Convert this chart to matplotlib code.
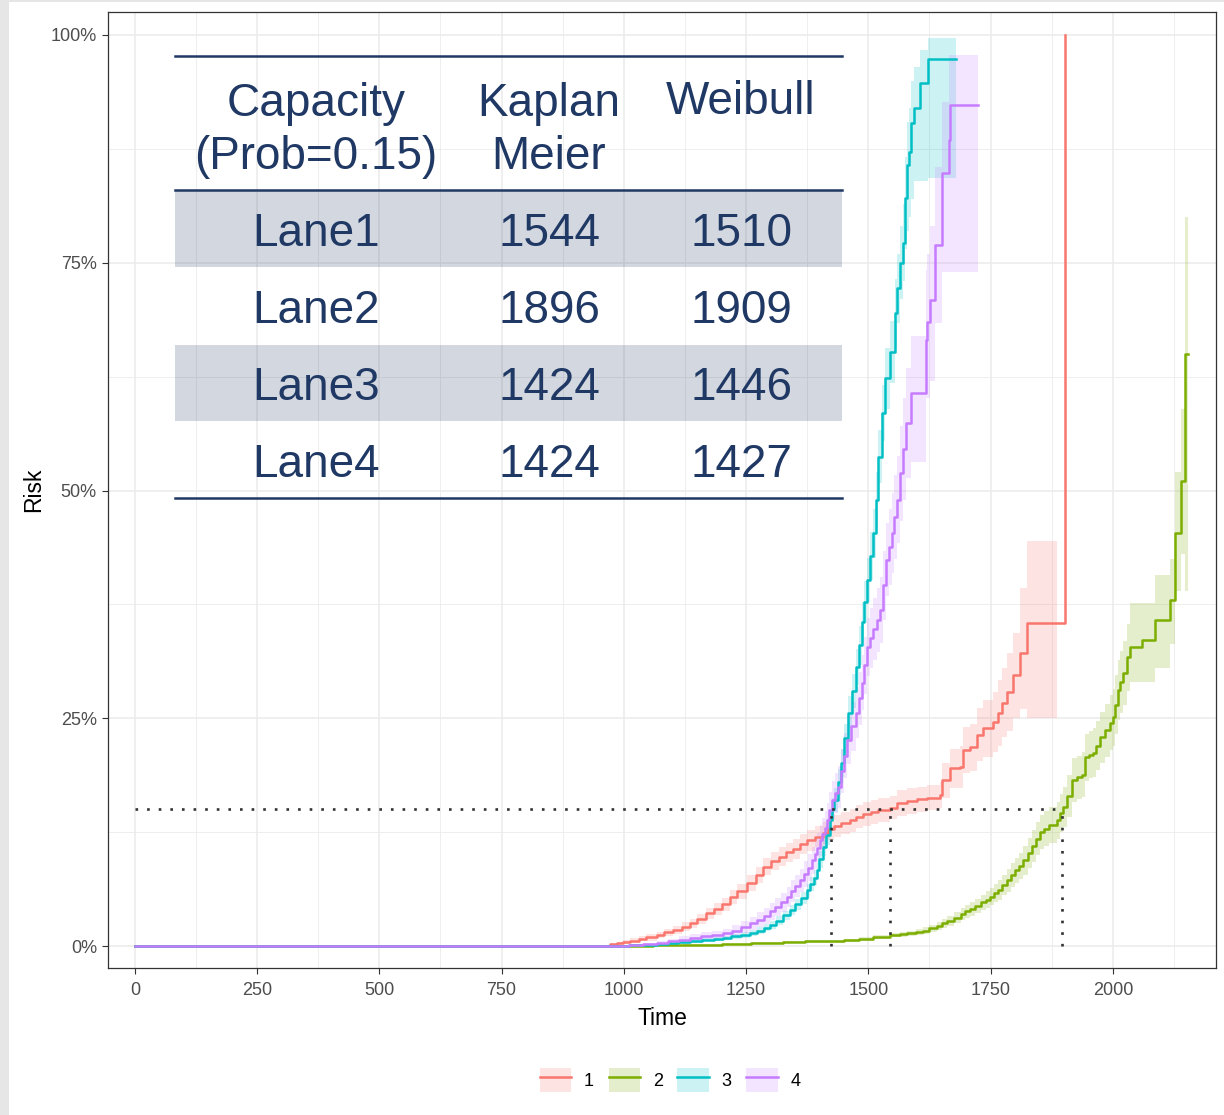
"""
Cumulative risk curves (Kaplan-Meier) for four lanes with a capacity table.
"""
import numpy as np
import matplotlib

matplotlib.use("Agg")
import matplotlib.pyplot as plt
from matplotlib.lines import Line2D
from matplotlib.patches import Patch, Rectangle

plt.rcParams["font.family"] = ["Liberation Sans", "DejaVu Sans"]

COLORS = ["#F8766D", "#7CAE00", "#00BFC4", "#C77CFF"]
NAVY = "#1F3864"
LANES = ["1", "2", "3", "4"]

nan = np.nan

# Lane 1
t1 = [0, 971, 985, 998, 1012, 1030, 1045, 1067, 1082, 1100,
      1118, 1135, 1150, 1169, 1185, 1200, 1217, 1232, 1251, 1270,
      1285, 1300, 1318, 1332, 1345, 1360, 1374, 1390, 1407, 1418,
      1430, 1445, 1462, 1475, 1489, 1505, 1520, 1544, 1558, 1580,
      1600, 1620, 1646, 1650, 1667, 1687, 1693, 1707, 1722, 1734,
      1755, 1765, 1773, 1783, 1796, 1810, 1824, 1885, 1902]
r1 = [0, 0.2, 0.3, 0.45, 0.6, 0.8, 0.95, 1.2, 1.5, 1.8,
      2.1, 2.5, 3.0, 3.6, 4.1, 4.6, 5.4, 6.0, 6.9, 7.8,
      8.7, 9.3, 9.8, 10.3, 10.7, 11.2, 11.6, 12.0, 12.4, 12.8,
      13.2, 13.5, 13.8, 14.2, 14.5, 14.7, 14.9, 15.2, 15.7, 15.9,
      16.1, 16.3, 16.6, 18.2, 19.5, 19.7, 21.5, 21.8, 23.2, 23.9,
      24.6, 25.6, 26.7, 27.9, 29.7, 32.2, 35.5, 35.5, 100]
lo1 = [0, 0.05, 0.15, 0.25, 0.35, 0.5, 0.6, 0.85, 1.1, 1.35,
       1.6, 2.0, 2.45, 3.0, 3.45, 3.9, 4.65, 5.2, 6.05, 6.9,
       7.75, 8.3, 8.75, 9.25, 9.6, 10.1, 10.45, 10.85, 11.2, 11.6,
       12.0, 12.25, 12.55, 12.95, 13.2, 13.4, 13.6, 13.9, 14.3, 14.5,
       14.7, 14.9, 15.2, 16.3, 17.4, 17.4, 19.0, 19.2, 20.3, 20.8,
       21.3, 22.0, 22.9, 23.6, 25.0, 26.0, 25.0, 25.0, nan]
hi1 = [0, 0.35, 0.45, 0.65, 0.85, 1.1, 1.3, 1.55, 1.9, 2.25,
       2.6, 3.0, 3.55, 4.2, 4.75, 5.3, 6.15, 6.8, 7.75, 8.7,
       9.65, 10.3, 10.85, 11.35, 11.8, 12.3, 12.75, 13.15, 13.6, 14.0,
       14.4, 14.75, 15.05, 15.45, 15.8, 16.0, 16.2, 16.5, 17.1, 17.3,
       17.5, 17.7, 18.0, 20.1, 21.6, 22.0, 24.0, 24.4, 26.1, 27.0,
       27.9, 29.2, 30.5, 32.2, 34.4, 39.3, 44.5, 44.5, nan]

# Lane 2
t2 = [0, 1000, 1060, 1121, 1160, 1200, 1260, 1325, 1370, 1421,
      1450, 1480, 1510, 1544, 1565, 1580, 1598, 1612, 1625, 1640,
      1650, 1660, 1675, 1690, 1698, 1707, 1718, 1730, 1740, 1748,
      1756, 1765, 1774, 1783, 1792, 1800, 1808, 1816, 1826, 1835,
      1843, 1851, 1860, 1870, 1885, 1892, 1898, 1906, 1916, 1927,
      1937, 1943, 1951, 1959, 1966, 1973, 1984, 1994, 2000, 2005,
      2010, 2015, 2020, 2028, 2035, 2059, 2086, 2117, 2127, 2140,
      2148, 2153]
r2 = [0, 0.05, 0.08, 0.1, 0.15, 0.2, 0.3, 0.45, 0.5, 0.5,
      0.65, 0.8, 1.0, 1.2, 1.3, 1.4, 1.55, 1.7, 1.95, 2.2,
      2.5, 2.8, 3.1, 3.5, 3.8, 4.1, 4.4, 4.8, 5.1, 5.4,
      5.8, 6.2, 6.7, 7.2, 7.8, 8.3, 8.8, 9.4, 10.2, 11.0,
      11.8, 12.5, 12.9, 13.3, 13.8, 14.6, 15.3, 16.5, 18.2, 18.5,
      18.8, 20.7, 21.0, 21.2, 22.0, 22.9, 23.7, 24.5, 25.1, 26.5,
      28.1, 29.0, 30.0, 31.7, 32.8, 33.6, 35.8, 38.0, 45.3, 51.0,
      65.0, 65.0]
lo2 = [0, 0, 0.02, 0.03, 0.06, 0.1, 0.17, 0.3, 0.35, 0.35,
       0.48, 0.6, 0.78, 0.95, 1.03, 1.1, 1.22, 1.35, 1.55, 1.75,
       2.0, 2.25, 2.5, 2.85, 3.1, 3.35, 3.6, 3.95, 4.2, 4.45,
       4.8, 5.1, 5.55, 5.95, 6.5, 6.9, 7.35, 7.85, 8.55, 9.25,
       9.95, 10.6, 10.95, 11.3, 11.75, 12.5, 13.1, 14.2, 15.8, 16.1,
       16.35, 18.1, 18.4, 18.5, 19.3, 20.1, 20.8, 21.5, 22.0, 23.3,
       24.8, 25.6, 26.5, 28.0, 29.0, 29.0, 30.5, 33.2, 39.0, 43.0,
       39.0, 39.0]
hi2 = [0, 0.1, 0.14, 0.17, 0.24, 0.3, 0.43, 0.6, 0.65, 0.65,
       0.82, 1.0, 1.22, 1.45, 1.57, 1.7, 1.88, 2.05, 2.35, 2.65,
       3.0, 3.35, 3.7, 4.15, 4.5, 4.85, 5.2, 5.65, 6.0, 6.35,
       6.8, 7.3, 7.85, 8.45, 9.1, 9.7, 10.25, 10.95, 11.85, 12.75,
       13.65, 14.4, 14.85, 15.3, 15.85, 16.7, 17.5, 18.8, 20.6, 20.9,
       21.25, 23.3, 23.6, 23.9, 24.7, 25.7, 26.6, 27.5, 28.2, 29.7,
       31.4, 32.4, 33.5, 35.4, 37.6, 37.6, 40.7, 42.5, 52.0, 59.0,
       80.0, 80.0]

# Lane 3
t3 = [0, 967, 1010, 1040, 1067, 1090, 1110, 1135, 1160, 1185,
      1203, 1220, 1240, 1258, 1272, 1286, 1299, 1312, 1326, 1340,
      1350, 1362, 1374, 1381, 1388, 1394, 1400, 1407, 1413, 1421,
      1425, 1430, 1437, 1444, 1451, 1458, 1466, 1474, 1480, 1487,
      1492, 1497, 1504, 1510, 1516, 1520, 1527, 1534, 1544, 1554,
      1559, 1564, 1570, 1574, 1580, 1583, 1587, 1593, 1605, 1622,
      1679]
r3 = [0, 0.05, 0.1, 0.15, 0.2, 0.3, 0.4, 0.55, 0.7, 0.8,
      0.9, 1.05, 1.2, 1.4, 1.7, 2.0, 2.3, 2.8, 3.4, 4.0,
      4.6, 5.3, 6.1, 6.8, 7.5, 8.3, 9.5, 10.9, 12.2, 13.8,
      15.0, 16.0, 18.0, 20.1, 22.8, 25.6, 28.0, 30.6, 33.0, 35.6,
      37.8, 40.2, 42.8, 45.3, 49.0, 53.7, 58.5, 62.3, 65.2, 69.5,
      72.2, 75.0, 77.2, 82.1, 85.7, 87.2, 90.3, 92.0, 94.7, 97.4,
      97.4]
lo3 = [0, 0, 0.03, 0.06, 0.1, 0.17, 0.25, 0.37, 0.5, 0.58,
       0.65, 0.78, 0.9, 1.08, 1.35, 1.62, 1.9, 2.35, 2.9, 3.45,
       4.0, 4.65, 5.4, 6.05, 6.7, 7.45, 8.6, 9.9, 11.1, 12.6,
       13.75, 14.7, 16.6, 18.6, 21.2, 23.8, 26.1, 28.6, 30.9, 33.4,
       35.5, 37.8, 40.2, 42.6, 46.0, 50.8, 55.4, 59.0, 61.8, 65.8,
       68.4, 71.0, 73.0, 76.5, 78.5, 80.0, 82.0, 84.0, 84.0, 84.3,
       84.3]
hi3 = [0, 0.1, 0.17, 0.24, 0.3, 0.43, 0.55, 0.73, 0.9, 1.02,
       1.15, 1.32, 1.5, 1.72, 2.05, 2.38, 2.7, 3.25, 3.9, 4.55,
       5.2, 5.95, 6.8, 7.55, 8.3, 9.15, 10.4, 11.9, 13.3, 15.0,
       16.25, 17.3, 19.4, 21.6, 24.4, 27.4, 29.9, 32.6, 35.1, 37.8,
       40.1, 42.6, 45.4, 48.0, 52.0, 56.6, 61.6, 65.6, 68.6, 73.2,
       76.0, 79.0, 81.4, 86.6, 90.4, 92.0, 95.0, 96.5, 98.4, 99.7,
       99.7]

# Lane 4
t4 = [0, 967, 1010, 1040, 1067, 1090, 1112, 1135, 1158, 1180,
      1203, 1222, 1240, 1258, 1272, 1286, 1299, 1310, 1322, 1333,
      1342, 1351, 1360, 1368, 1376, 1384, 1390, 1396, 1401, 1406,
      1411, 1415, 1420, 1425, 1431, 1438, 1444, 1450, 1456, 1465,
      1474, 1480, 1487, 1492, 1497, 1504, 1510, 1517, 1524, 1530,
      1536, 1542, 1548, 1553, 1558, 1564, 1570, 1577, 1587, 1618,
      1620, 1626, 1636, 1650, 1664, 1667, 1724]
r4 = [0, 0.05, 0.1, 0.2, 0.3, 0.5, 0.7, 0.9, 1.05, 1.2,
      1.4, 1.7, 2.1, 2.5, 2.9, 3.3, 3.8, 4.3, 4.8, 5.4,
      6.0, 6.6, 7.2, 7.9, 8.6, 9.4, 10.1, 10.8, 11.6, 12.3,
      13.0, 13.8, 14.9, 16.0, 16.8, 17.5, 19.2, 20.9, 22.6, 24.1,
      25.6, 27.2, 28.9, 30.8, 32.8, 33.8, 34.8, 35.8, 36.9, 39.6,
      42.4, 43.8, 45.3, 47.1, 49.0, 51.9, 54.6, 57.4, 60.7, 66.5,
      68.5, 70.9, 77.0, 84.8, 88.5, 92.3, 92.3]
lo4 = [0, 0.0, 0.02, 0.08, 0.1, 0.2, 0.35, 0.5, 0.6, 0.7,
       0.9, 1.1, 1.45, 1.8, 2.1, 2.45, 2.9, 3.3, 3.75, 4.3,
       4.8, 5.35, 5.9, 6.5, 7.15, 7.9, 8.5, 9.15, 9.9, 10.5,
       11.15, 11.9, 12.9, 13.9, 14.6, 15.2, 16.8, 18.4, 20.0, 21.4,
       22.8, 24.3, 25.9, 27.7, 29.6, 30.5, 31.4, 32.3, 33.3, 35.8,
       38.4, 39.6, 40.9, 42.5, 44.2, 46.7, 49.0, 51.4, 53.1, 60.2,
       60.2, 62.0, 68.4, 74.0, 74.0, 74.0, 74.0]
hi4 = [0, 0.1, 0.18, 0.32, 0.5, 0.8, 1.05, 1.3, 1.5, 1.7,
       1.9, 2.3, 2.75, 3.2, 3.7, 4.15, 4.7, 5.3, 5.85, 6.5,
       7.2, 7.85, 8.5, 9.3, 10.05, 10.9, 11.7, 12.45, 13.3, 14.1,
       14.85, 15.7, 16.9, 18.1, 19.0, 19.8, 21.6, 23.4, 25.2, 26.8,
       28.4, 30.1, 31.9, 33.9, 36.0, 37.1, 38.2, 39.3, 40.5, 43.4,
       46.4, 48.0, 49.7, 51.7, 53.8, 57.1, 60.2, 63.4, 67.0, 74.2,
       76.0, 79.0, 85.5, 92.6, 97.8, 97.8, 97.8]

TIMES = [t1, t2, t3, t4]
RISKS = [r1, r2, r3, r4]
LOWER = [lo1, lo2, lo3, lo4]
UPPER = [hi1, hi2, hi3, hi4]

PROB = 15
ROW_NAMES = ["Lane1", "Lane2", "Lane3", "Lane4"]
KM_CAPACITY = [1544, 1896, 1424, 1424]
WEIBULL_CAPACITY = [1510, 1909, 1446, 1427]

X_TICKS = [0, 250, 500, 750, 1000, 1250, 1500, 1750, 2000]
Y_TICKS = [0, 25, 50, 75, 100]
Y_LABELS = ["0%", "25%", "50%", "75%", "100%"]

W, H = 1224, 1115
fig = plt.figure(figsize=(W / 100, H / 100), dpi=100)
fig.patch.set_facecolor("white")
fig.add_artist(Rectangle((0, 0), 9 / W, 1, transform=fig.transFigure,
                         facecolor="#E6E6E6", edgecolor="none"))
fig.add_artist(Rectangle((0, 1 - 2 / H), 1, 2 / H, transform=fig.transFigure,
                         facecolor="#E6E6E6", edgecolor="none"))

ax = fig.add_axes([108 / W, 1 - 968 / H, (1216 - 108) / W, (968 - 12) / H])

for t, r, lo, hi, c in zip(TIMES, RISKS, LOWER, UPPER, COLORS):
    ax.fill_between(t, lo, hi, step="post", color=c, alpha=0.2, lw=0, zorder=2)
    ax.plot(t, r, drawstyle="steps-post", color=c, lw=1.8, zorder=3)

# capacity lines at the chosen probability
dot = dict(color="#333333", lw=1.9, linestyle=(0, (1, 3.4)),
           dash_capstyle="butt", zorder=4)
ax.plot([0, max(KM_CAPACITY)], [PROB, PROB], **dot)
for cap in sorted(set(KM_CAPACITY)):
    ax.plot([cap, cap], [0, PROB], **dot)

ax.set_xlim(-55, 2211)
ax.set_ylim(-2.41, 102.52)
ax.set_xticks(X_TICKS)
ax.set_yticks(Y_TICKS)
ax.set_yticklabels(Y_LABELS)
ax.set_xticks([v + 125 for v in X_TICKS], minor=True)
ax.set_yticks([v + 12.5 for v in Y_TICKS[:-1]], minor=True)
ax.grid(which="major", color="#EBEBEB", lw=1.1, zorder=0)
ax.grid(which="minor", color="#EBEBEB", lw=0.6, zorder=0)
ax.set_axisbelow(True)
ax.tick_params(which="major", length=4, width=0.8, color="#333333",
               labelcolor="#4D4D4D", labelsize=13)
ax.tick_params(axis="x", which="major", pad=6)
ax.tick_params(axis="y", which="major", pad=4)
ax.tick_params(which="minor", length=0)
for s in ax.spines.values():
    s.set_color("#333333")
    s.set_linewidth(0.9)
ax.set_xlabel("Time", fontsize=16.5, labelpad=6)
ax.set_ylabel("Risk", fontsize=16.5, labelpad=4)

handles = [(Patch(facecolor=c, alpha=0.2, edgecolor="none"),
            Line2D([], [], color=c, lw=1.8)) for c in COLORS]
fig.legend(handles, LANES, loc="center", bbox_to_anchor=(670 / W, 1 - 1080 / H),
           ncol=4, frameon=False, fontsize=13, handlelength=1.75,
           handleheight=1.75, handletextpad=0.7, columnspacing=0.8)

# table overlay, in pixel coordinates of the figure
tab = fig.add_axes([0, 0, 1, 1], zorder=5)
tab.set_xlim(0, W)
tab.set_ylim(H, 0)
tab.axis("off")
tab.patch.set_alpha(0)

for top in (191, 345):
    tab.add_patch(Rectangle((175, top), 667, 76, facecolor=NAVY, alpha=0.2,
                            edgecolor="none"))
for y in (56, 190, 498):
    tab.plot([175, 842], [y, y], color=NAVY, lw=1.8)

cols = [316, 549, 741]
txt = dict(color=NAVY, fontsize=33, ha="center", va="baseline")
tab.text(cols[0], 116, "Capacity", **txt)
tab.text(cols[0], 169, f"(Prob={PROB / 100:.2f})", **txt)
tab.text(cols[1], 116, "Kaplan", **txt)
tab.text(cols[1], 169, "Meier", **txt)
tab.text(cols[2], 114, "Weibull", **txt)
for i, (name, km, wb) in enumerate(zip(ROW_NAMES, KM_CAPACITY, WEIBULL_CAPACITY)):
    base = 246 + i * 77
    tab.text(cols[0], base, name, **txt)
    tab.text(cols[1], base, str(km), **txt)
    tab.text(cols[2], base, str(wb), **txt)

fig.savefig("out.png", dpi=100)
